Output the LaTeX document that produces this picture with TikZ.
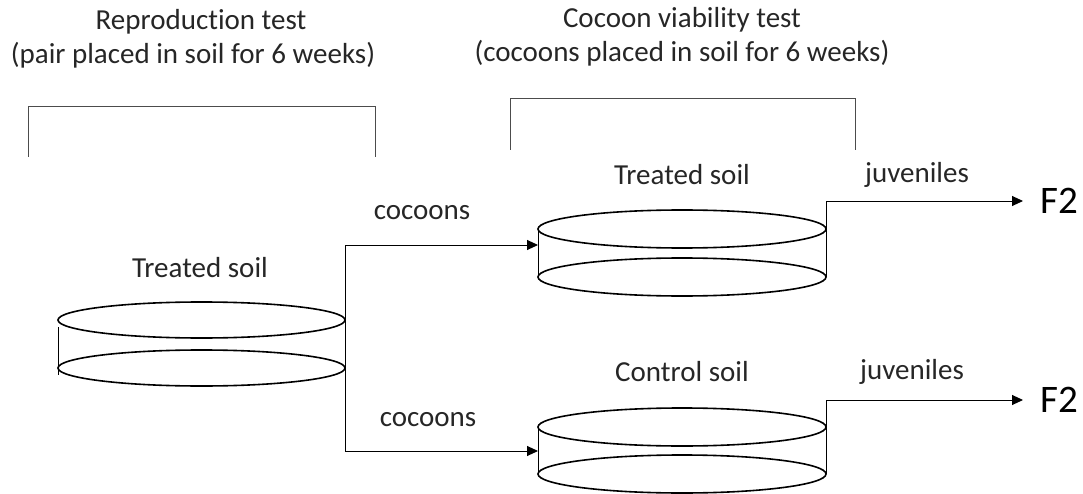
\documentclass[tikz,border=0pt]{standalone}
\usepackage{fontspec}
\setmainfont{Carlito}[Ligatures={NoCommon}]
\usetikzlibrary{arrows.meta}
\begin{document}
\begin{tikzpicture}[x=1pt,y=-1pt,
  lbl/.style={font=\fontsize{29}{33}\selectfont, text=black!85, inner sep=0pt},
  big/.style={font=\fontsize{39}{43}\selectfont, text=black, inner sep=0pt},
  rim/.style={line width=1.6pt, black},
  wall/.style={line width=0.8pt, black},
  conn/.style={line width=0.9pt, black},
  arr/.style={conn, -{Triangle[length=11pt,width=10pt]}},
  brk/.style={line width=0.9pt, black!70}]
\useasboundingbox (0,0) rectangle (1083,494);
% titles
\node[lbl] (t1) at (201,22) {Reproduction test};
\node[lbl] (t1b) at (193,55) {(pair placed in soil for 6 weeks)};
\node[lbl] (t2) at (682,20) {Cocoon viability test};
\node[lbl] (t2b) at (682,53) {(cocoons placed in soil for 6 weeks)};
% brackets
\draw[brk] (28,157) -- (28,106) -- (375,106) -- (375,157);
\draw[brk] (510,150) -- (510,98) -- (855,98) -- (855,150);
% left dish
\draw[wall] (58,327) -- (58,375);
\draw[rim] (201.5,320) ellipse [x radius=143.5, y radius=18];
\draw[rim] (201.5,368) ellipse [x radius=143.5, y radius=18];
\node[lbl] (lt) at (200,268) {Treated soil};
% top right dish
\draw[wall] (538,229) -- (538,277);
\draw[rim] (682,229) ellipse [x radius=144, y radius=19];
\draw[rim] (682,277) ellipse [x radius=144, y radius=19];
\node[lbl] (tt) at (682,175) {Treated soil};
% bottom right dish
\draw[wall] (538,427) -- (538,474);
\draw[rim] (682,427) ellipse [x radius=144, y radius=19];
\draw[rim] (682,474) ellipse [x radius=144, y radius=19];
\node[lbl] (ct) at (682,372) {Control soil};
% connectors
\coordinate (a1) at (538,245);
\coordinate (a2) at (538,451);
\draw[arr] (345,375) -- (345,245) -- (a1);
\draw[arr] (345,320) -- (345,451) -- (a2);
\node[lbl] (c1) at (422,213) {cocoons};
\node[lbl] (c2) at (428,420) {cocoons};
% outputs
\node[big,anchor=west] (f1) at (1040,201) {F2};
\node[big,anchor=west] (f2) at (1040,400) {F2};
\draw[arr] (826,277) -- (826,201) -- ([xshift=-17pt]f1.west);
\draw[arr] (826,474) -- (826,400) -- ([xshift=-17pt]f2.west);
\node[lbl] (j1) at (917,175) {juveniles};
\node[lbl] (j2) at (912,372) {juveniles};
\end{tikzpicture}
\end{document}
